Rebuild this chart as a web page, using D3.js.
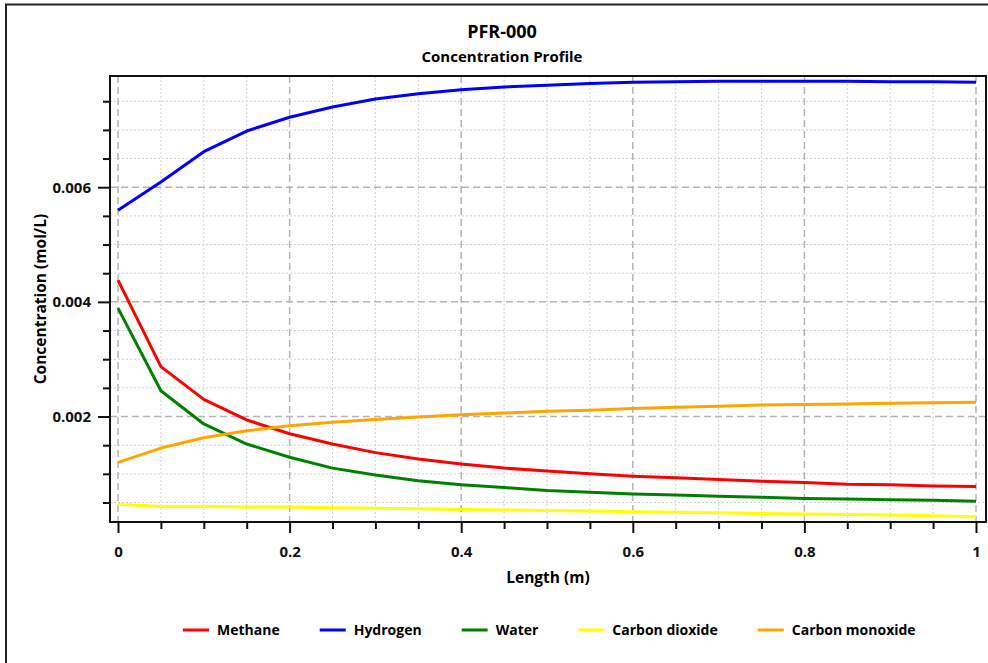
<!DOCTYPE html>
<html lang="en">

<head>
    <meta charset="UTF-8">
    <title>PFR-000</title>
    <style>
        body {
            margin: 0;
            background: white;
        }

        svg {
            font-family: "Open Sans", "Noto Sans", sans-serif;
            font-weight: 700;
        }
    </style>
</head>

<body>
    <svg width="988" height="663"></svg>
    <script src="https://cdn.jsdelivr.net/npm/d3@7.8.5/dist/d3.min.js"></script>
    <script>
        // reactor length (m)
        const lengths = [0, 0.05, 0.1, 0.15, 0.2, 0.25, 0.3, 0.35, 0.4, 0.45, 0.5,
            0.55, 0.6, 0.65, 0.7, 0.75, 0.8, 0.85, 0.9, 0.95, 1]

        // concentrations, mol/L
        const methane = [0.00438, 0.00287, 0.00230, 0.00194, 0.00170, 0.00152, 0.00137, 0.00126, 0.00117, 0.00110, 0.00105,
            0.00100, 0.00096, 0.00093, 0.00090, 0.00087, 0.00085, 0.00082, 0.00081, 0.00079, 0.00078]
        const hydrogen = [0.00560, 0.00609, 0.00662, 0.00698, 0.00722, 0.00740, 0.00754, 0.00763, 0.00770, 0.00775, 0.00778,
            0.00781, 0.00783, 0.00784, 0.00785, 0.00785, 0.00785, 0.00785, 0.00784, 0.00784, 0.00783]
        const water = [0.00389, 0.00245, 0.00187, 0.00152, 0.00129, 0.00110, 0.00098, 0.00088, 0.00081, 0.00076, 0.00071,
            0.00068, 0.00065, 0.00063, 0.00061, 0.00059, 0.00057, 0.00056, 0.00055, 0.00054, 0.00052]
        const carbonDioxide = [0.00047, 0.00043, 0.00043, 0.00042, 0.00042, 0.00041, 0.00040, 0.00039, 0.00038, 0.00037, 0.00036,
            0.00035, 0.00034, 0.00033, 0.00032, 0.00031, 0.00030, 0.00029, 0.00028, 0.00027, 0.00025]
        const carbonMonoxide = [0.00120, 0.00145, 0.00163, 0.00175, 0.00184, 0.00190, 0.00195, 0.00199, 0.00203, 0.00206, 0.00209,
            0.00211, 0.00214, 0.00216, 0.00218, 0.00220, 0.00221, 0.00222, 0.00223, 0.00224, 0.00225]

        const seriesNames = ['Methane', 'Hydrogen', 'Water', 'Carbon dioxide', 'Carbon monoxide']
        const seriesColors = ['#ff0000', '#0000ff', '#008000', '#ffff00', '#ffa500']
        const seriesValues = [methane, hydrogen, water, carbonDioxide, carbonMonoxide]

        const xMajor = [0, 0.2, 0.4, 0.6, 0.8, 1]
        const xMinor = [0.05, 0.1, 0.15, 0.25, 0.3, 0.35, 0.45, 0.5, 0.55, 0.65, 0.7, 0.75, 0.85, 0.9, 0.95]
        const yMajor = [0.002, 0.004, 0.006]
        const yMinor = [0.0005, 0.001, 0.0015, 0.0025, 0.003, 0.0035, 0.0045, 0.005, 0.0055, 0.0065, 0.007, 0.0075]

        const svg = d3.select('svg')

        // plot box
        const box = { left: 110, top: 76, right: 986, bottom: 522 }

        const x = d3.scaleLinear().domain([0, 1]).range([118, 976])
        const y = d3.scaleLinear().domain([0.00016, 0.00794]).range([box.bottom, box.top])

        // outer frame (cut by the image edge on right and bottom)
        svg.append('path')
            .attr('d', `M6,665 V4.5 H990`)
            .attr('fill', 'none')
            .attr('stroke', '#222')
            .attr('stroke-width', 2)

        // titles
        svg.append('text')
            .attr('x', 502).attr('y', 37.5)
            .attr('text-anchor', 'middle')
            .attr('font-size', 18)
            .text('PFR-000')

        svg.append('text')
            .attr('x', 502).attr('y', 62)
            .attr('text-anchor', 'middle')
            .attr('font-size', 15)
            .text('Concentration Profile')

        // grid
        const grid = svg.append('g')

        grid.selectAll('.vminor')
            .data(xMinor)
            .join('line')
            .attr('x1', d => x(d)).attr('x2', d => x(d))
            .attr('y1', box.top).attr('y2', box.bottom)
            .attr('stroke', '#d0d0d0')
            .attr('stroke-dasharray', '2,2')

        grid.selectAll('.hminor')
            .data(yMinor)
            .join('line')
            .attr('y1', d => y(d)).attr('y2', d => y(d))
            .attr('x1', box.left).attr('x2', box.right)
            .attr('stroke', '#d0d0d0')
            .attr('stroke-dasharray', '2,2')

        grid.selectAll('.vmajor')
            .data(xMajor)
            .join('line')
            .attr('x1', d => x(d)).attr('x2', d => x(d))
            .attr('y1', box.top).attr('y2', box.bottom)
            .attr('stroke', '#b4b4b4')
            .attr('stroke-width', 1.5)
            .attr('stroke-dasharray', '7,4')

        grid.selectAll('.hmajor')
            .data(yMajor)
            .join('line')
            .attr('y1', d => y(d)).attr('y2', d => y(d))
            .attr('x1', box.left).attr('x2', box.right)
            .attr('stroke', '#b4b4b4')
            .attr('stroke-width', 1.5)
            .attr('stroke-dasharray', '7,4')

        // series
        const line = d3.line()
            .x((d, i) => x(lengths[i]))
            .y(d => y(d))

        svg.append('g')
            .selectAll('path')
            .data(seriesValues)
            .join('path')
            .attr('d', d => line(d))
            .attr('fill', 'none')
            .attr('stroke', (d, i) => seriesColors[i])
            .attr('stroke-width', 3)
            .attr('stroke-linejoin', 'round')

        // plot border
        svg.append('rect')
            .attr('x', box.left).attr('y', box.top)
            .attr('width', box.right - box.left)
            .attr('height', box.bottom - box.top)
            .attr('fill', 'none')
            .attr('stroke', '#111')
            .attr('stroke-width', 2)

        // axes
        function styleAxis(g) {
            g.select('.domain').remove()
            g.selectAll('.tick line').attr('stroke', '#111').attr('stroke-width', 2)
            g.selectAll('.tick text').attr('fill', '#111').attr('font-size', 15)
            g.attr('font-family', null).attr('font-size', null)
        }

        svg.append('g')
            .attr('transform', `translate(0,${box.bottom})`)
            .call(d3.axisBottom(x).tickValues(xMinor).tickSize(7).tickFormat(''))
            .call(styleAxis)

        svg.append('g')
            .attr('transform', `translate(0,${box.bottom})`)
            .call(d3.axisBottom(x).tickValues(xMajor).tickSize(11).tickPadding(13).tickFormat(d3.format('~g')))
            .call(styleAxis)

        svg.append('g')
            .attr('transform', `translate(0,0)`)
            .call(g => g.attr('transform', `translate(${box.left},0)`))
            .call(d3.axisLeft(y).tickValues(yMinor).tickSize(7).tickFormat(''))
            .call(styleAxis)

        svg.append('g')
            .attr('transform', `translate(${box.left},0)`)
            .call(d3.axisLeft(y).tickValues(yMajor).tickSize(12).tickPadding(7).tickFormat(d3.format('.3f')))
            .call(styleAxis)

        // axis titles
        svg.append('text')
            .attr('x', (box.left + box.right) / 2).attr('y', 583)
            .attr('text-anchor', 'middle')
            .attr('font-size', 15.5)
            .text('Length (m)')

        svg.append('text')
            .attr('transform', `translate(46,299) rotate(-90)`)
            .attr('text-anchor', 'middle')
            .attr('font-size', 15.5)
            .text('Concentration (mol/L)')

        // legend
        const legend = svg.append('g').attr('transform', 'translate(183,630)')
        let lx = 0
        seriesNames.forEach((name, i) => {
            const item = legend.append('g').attr('transform', `translate(${lx},0)`)
            item.append('line')
                .attr('x1', 0).attr('x2', 26)
                .attr('stroke', seriesColors[i])
                .attr('stroke-width', 3)
            const t = item.append('text')
                .attr('x', 34).attr('y', 5)
                .attr('font-size', 14)
                .text(name)
            lx += 34 + t.node().getComputedTextLength() + 40
        })
    </script>
</body>

</html>
